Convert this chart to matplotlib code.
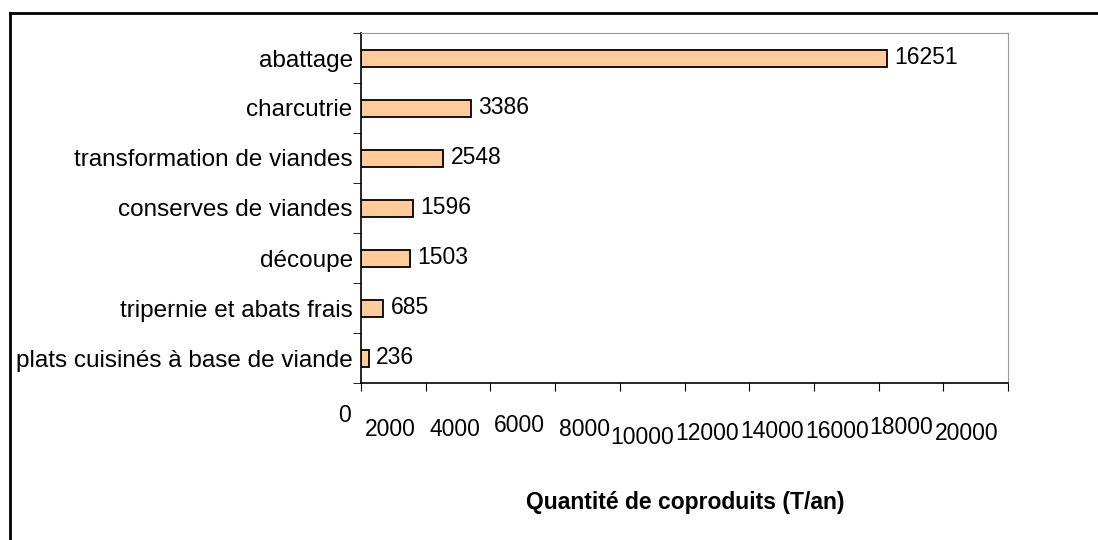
import numpy as np
import matplotlib.pyplot as plt
from matplotlib.lines import Line2D
import matplotlib.transforms as mtransforms

plt.rcParams['font.family'] = ['Liberation Sans', 'DejaVu Sans']

categories = ['abattage', 'charcutrie', 'transformation de viandes',
              'conserves de viandes', 'découpe', 'tripernie et abats frais',
              'plats cuisinés à base de viande']
values = [16251, 3386, 2548, 1596, 1503, 685, 236]
xticks = [0, 2000, 4000, 6000, 8000, 10000, 12000, 14000, 16000, 18000, 20000]
# excel staggered tick labels: vertical offsets in pixels below axis
label_drop = [32, 47, 47, 43, 47, 54, 50, 48, 48, 45, 50]

W, H = 1098, 540
fig = plt.figure(figsize=(W / 100, H / 100), dpi=100)
ax = fig.add_axes([361 / W, 1 - 383 / H, (1008 - 361) / W, (383 - 33) / H])

y = np.arange(len(categories))
ax.barh(y, values, height=0.34, color='#FFCC99', edgecolor='black', linewidth=1.3)
for yi, v in zip(y, values):
    ax.text(v + 230, yi, str(v), va='center', ha='left', fontsize=16.5)

ax.set_xlim(0, 20000)
ax.set_ylim(len(categories) - 0.5, -0.5)
ax.set_yticks(y)
ax.set_yticklabels(categories, fontsize=17.5)
ax.tick_params(axis='y', length=0, pad=6)
ax.set_yticks(np.arange(-0.5, len(categories)), minor=True)
ax.tick_params(axis='y', which='minor', length=6, direction='out', color='black')

ax.set_xticks(xticks)
ax.set_xticklabels([])
ax.tick_params(axis='x', length=6, direction='out', color='black')
trans = mtransforms.blended_transform_factory(ax.transData, ax.transAxes)
for t, d in zip(xticks, label_drop):
    off = mtransforms.offset_copy(trans, fig=fig, x=-10, y=-d, units='dots')
    ax.text(t, 0, str(t), ha='right', va='center', fontsize=16.5, transform=off)

fig.text(685 / W, 1 - 503 / H, 'Quantité de coproduits (T/an)', fontsize=16.5,
         fontweight='bold', ha='center', va='center')

for s in ['top', 'right']:
    ax.spines[s].set_color('#999999')
for s in ['left', 'bottom']:
    ax.spines[s].set_color('black')
    ax.spines[s].set_linewidth(1.2)

# outer frame (top and left)
fig.add_artist(Line2D([10 / W, 1], [1 - 13 / H, 1 - 13 / H], color='black', lw=2))
fig.add_artist(Line2D([10 / W, 10 / W], [0, 1 - 13 / H], color='black', lw=2))

fig.savefig('out.png', dpi=100)
